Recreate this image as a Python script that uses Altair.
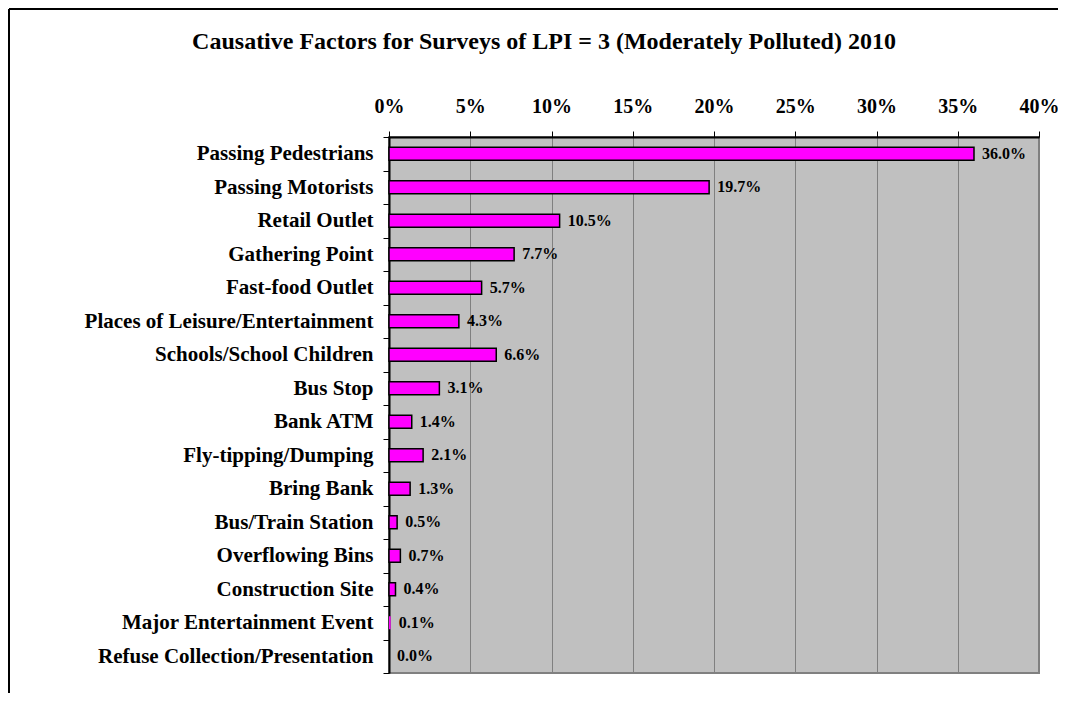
import altair as alt
import pandas as pd

title_text = "Causative Factors for Surveys of LPI = 3 (Moderately Polluted) 2010"

categories = [
    "Passing Pedestrians",
    "Passing Motorists",
    "Retail Outlet",
    "Gathering Point",
    "Fast-food Outlet",
    "Places of Leisure/Entertainment",
    "Schools/School Children",
    "Bus Stop",
    "Bank ATM",
    "Fly-tipping/Dumping",
    "Bring Bank",
    "Bus/Train Station",
    "Overflowing Bins",
    "Construction Site",
    "Major Entertainment Event",
    "Refuse Collection/Presentation",
]
values = [36.0, 19.7, 10.5, 7.7, 5.7, 4.3, 6.6, 3.1, 1.4, 2.1, 1.3, 0.5, 0.7, 0.4, 0.1, 0.0]
x_ticks = [0, 5, 10, 15, 20, 25, 30, 35, 40]

df = pd.DataFrame({"factor": categories, "pct": values})
df["label"] = [f"{v:.1f}%" for v in values]

FONT = "Liberation Serif"
W, H = 650, 536
PAD = {"left": 381, "top": 129, "right": 19, "bottom": 20}

y_enc = alt.Y(
    "factor:N",
    sort=categories,
    scale=alt.Scale(paddingInner=0, paddingOuter=0),
    axis=alt.Axis(
        title=None, tickBand="extent", tickSize=6, tickColor="#000000", tickWidth=1,
        domainColor="#000000", domainWidth=2, labelFont=FONT, labelFontSize=21,
        labelFontWeight="bold", labelColor="#000000", labelPadding=10, labelLimit=400,
    ),
)
x_enc = alt.X(
    "pct:Q",
    scale=alt.Scale(domain=[0, 40], nice=False, zero=True),
    axis=alt.Axis(
        orient="top", values=x_ticks, labelExpr="datum.value + '%'", title=None,
        grid=True, gridColor="#808080", gridWidth=1, domainColor="#000000", domainWidth=2,
        tickColor="#000000", tickSize=6, tickWidth=1, labelFont=FONT, labelFontSize=20,
        labelFontWeight="bold", labelColor="#000000", labelPadding=15,
        labelFlush=False, labelOverlap=False,
    ),
)

bars = alt.Chart(df).mark_bar(
    color="#FF00FF", stroke="#000000", strokeWidth=1.5, size=13
).encode(
    x=x_enc,
    y=y_enc,
    strokeOpacity=alt.condition("datum.pct >= 0.2", alt.value(1), alt.value(0)),
)

labels = alt.Chart(df).mark_text(
    align="left", baseline="middle", dx=8, font=FONT, fontSize=16,
    fontWeight="bold", color="#000000"
).encode(x="pct:Q", y=alt.Y("factor:N", sort=categories), text="label:N")

one = pd.DataFrame({"k": [0]})
frame_left = alt.Chart(one).mark_rule(color="#000000", strokeWidth=2).encode(
    x=alt.value(-380), y=alt.value(-128), y2=alt.value(H + PAD["bottom"])
)
frame_top = alt.Chart(one).mark_rule(color="#000000", strokeWidth=2).encode(
    x=alt.value(-380), x2=alt.value(W + PAD["right"]), y=alt.value(-128)
)

chart = alt.layer(bars, labels, frame_left, frame_top).properties(
    width=W,
    height=H,
    background="#FFFFFF",
    autosize=alt.AutoSizeParams(type="none"),
    padding=PAD,
    title=alt.TitleParams(
        text=title_text, font=FONT, fontSize=24, fontWeight="bold", color="#000000",
        anchor="middle", frame="group", dx=-170, offset=-65, baseline="alphabetic",
    ),
).configure_view(
    fill="#C0C0C0", stroke="#808080", strokeWidth=2
)

chart.save("out.html", embed_options={"renderer": "svg", "actions": False})
